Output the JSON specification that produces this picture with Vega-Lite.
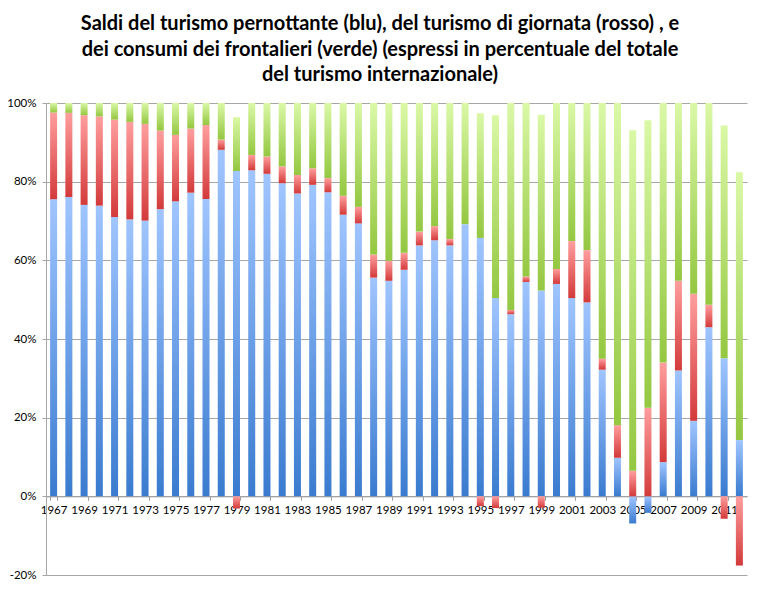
{
  "$schema": "https://vega.github.io/schema/vega-lite/v6.json",
  "autosize": {"type": "none"},
  "width": 701,
  "height": 472,
  "padding": {"left": 46, "top": 103, "right": 15, "bottom": 16},
  "background": "white",
  "title": {
    "text": ["Saldi del turismo pernottante (blu), del turismo di giornata (rosso) , e", "dei consumi dei frontalieri (verde) (espressi in percentuale del totale", "del turismo internazionale)"],
    "font": "Lato",
    "fontSize": 20,
    "fontWeight": "bold",
    "color": "#000000",
    "lineHeight": 25.5,
    "anchor": "middle",
    "frame": "group",
    "dx": -16.5,
    "offset": 12
  },
  "config": {
    "view": {"stroke": null},
    "axis": {"labelFont": "Lato", "labelFontSize": 11.5, "labelColor": "#000000"}
  },
  "data": {"values": [
    {"anno": "1967", "blu": 75.5, "rosso": 22.1, "verde": 2.4},
    {"anno": "1968", "blu": 76.1, "rosso": 21.4, "verde": 2.5},
    {"anno": "1969", "blu": 74.1, "rosso": 22.8, "verde": 3.1},
    {"anno": "1970", "blu": 73.9, "rosso": 22.7, "verde": 3.4},
    {"anno": "1971", "blu": 71.0, "rosso": 24.8, "verde": 4.2},
    {"anno": "1972", "blu": 70.4, "rosso": 24.8, "verde": 4.8},
    {"anno": "1973", "blu": 70.1, "rosso": 24.6, "verde": 5.3},
    {"anno": "1974", "blu": 73.0, "rosso": 20.0, "verde": 7.0},
    {"anno": "1975", "blu": 75.0, "rosso": 16.9, "verde": 8.1},
    {"anno": "1976", "blu": 77.2, "rosso": 16.3, "verde": 6.5},
    {"anno": "1977", "blu": 75.6, "rosso": 18.8, "verde": 5.6},
    {"anno": "1978", "blu": 88.1, "rosso": 2.6, "verde": 9.3},
    {"anno": "1979", "blu": 82.7, "rosso": -3.1, "verde": 13.7},
    {"anno": "1980", "blu": 82.9, "rosso": 3.9, "verde": 13.2},
    {"anno": "1981", "blu": 82.0, "rosso": 4.4, "verde": 13.6},
    {"anno": "1982", "blu": 79.6, "rosso": 4.3, "verde": 16.1},
    {"anno": "1983", "blu": 77.0, "rosso": 4.7, "verde": 18.3},
    {"anno": "1984", "blu": 79.2, "rosso": 4.2, "verde": 16.6},
    {"anno": "1985", "blu": 77.3, "rosso": 3.6, "verde": 19.1},
    {"anno": "1986", "blu": 71.6, "rosso": 4.8, "verde": 23.6},
    {"anno": "1987", "blu": 69.4, "rosso": 4.2, "verde": 26.4},
    {"anno": "1988", "blu": 55.6, "rosso": 5.9, "verde": 38.5},
    {"anno": "1989", "blu": 54.8, "rosso": 5.1, "verde": 40.1},
    {"anno": "1990", "blu": 57.6, "rosso": 4.3, "verde": 38.1},
    {"anno": "1991", "blu": 63.8, "rosso": 3.5, "verde": 32.7},
    {"anno": "1992", "blu": 65.1, "rosso": 3.6, "verde": 31.3},
    {"anno": "1993", "blu": 63.8, "rosso": 1.6, "verde": 34.6},
    {"anno": "1994", "blu": 69.2, "rosso": 0.0, "verde": 30.8},
    {"anno": "1995", "blu": 65.7, "rosso": -2.5, "verde": 31.7},
    {"anno": "1996", "blu": 50.4, "rosso": -3.0, "verde": 46.5},
    {"anno": "1997", "blu": 46.3, "rosso": 1.1, "verde": 52.6},
    {"anno": "1998", "blu": 54.5, "rosso": 1.4, "verde": 44.1},
    {"anno": "1999", "blu": 52.3, "rosso": -2.9, "verde": 44.7},
    {"anno": "2000", "blu": 54.0, "rosso": 3.8, "verde": 42.2},
    {"anno": "2001", "blu": 50.4, "rosso": 14.5, "verde": 35.1},
    {"anno": "2002", "blu": 49.3, "rosso": 13.3, "verde": 37.4},
    {"anno": "2003", "blu": 32.2, "rosso": 2.8, "verde": 65.0},
    {"anno": "2004", "blu": 9.8, "rosso": 8.3, "verde": 81.9},
    {"anno": "2005", "blu": -6.9, "rosso": 6.5, "verde": 86.6},
    {"anno": "2006", "blu": -4.2, "rosso": 22.5, "verde": 73.1},
    {"anno": "2007", "blu": 8.7, "rosso": 25.3, "verde": 66.0},
    {"anno": "2008", "blu": 32.0, "rosso": 22.8, "verde": 45.2},
    {"anno": "2009", "blu": 19.2, "rosso": 32.3, "verde": 48.5},
    {"anno": "2010", "blu": 43.0, "rosso": 5.7, "verde": 51.3},
    {"anno": "2011", "blu": 35.1, "rosso": -5.7, "verde": 59.2},
    {"anno": "2012", "blu": 14.3, "rosso": -17.6, "verde": 68.1}
  ]},
  "transform": [
    {"fold": ["blu", "rosso", "verde"], "as": ["serie", "valore"]},
    {"stack": "valore", "groupby": ["anno"], "sort": [{"field": "serie", "order": "ascending"}], "as": ["v0", "v1"]}
  ],
  "encoding": {
    "x": {
      "field": "anno", "type": "ordinal",
      "scale": {"paddingInner": 0.54, "paddingOuter": 0.27},
      "axis": {
        "orient": "bottom", "offset": -78.67, "title": null, "labelAngle": 0,
        "values": ["1967","1969","1971","1973","1975","1977","1979","1981","1983","1985","1987","1989","1991","1993","1995","1997","1999","2001","2003","2005","2007","2009","2011"],
        "domainColor": "#a0a0a0", "tickColor": "#a0a0a0", "tickSize": 4, "tickBand": "extent",
        "labelPadding": 4, "labelOverlap": false
      }
    },
    "y": {
      "field": "v1", "type": "quantitative",
      "scale": {"domain": [-20, 100], "nice": false, "zero": false},
      "axis": {
        "title": null, "values": [-20, 0, 20, 40, 60, 80, 100], "labelExpr": "datum.value + '%'",
        "grid": true, "gridColor": "#a6a6a6", "domainColor": "#a6a6a6", "tickColor": "#a6a6a6",
        "tickSize": 4, "labelPadding": 6
      }
    },
    "y2": {"field": "v0"}
  },
  "layer": [
    {
      "transform": [{"filter": "datum.serie === 'blu'"}],
      "mark": {"type": "bar", "color": {"gradient": "linear", "x1": 0, "y1": 0, "x2": 0, "y2": 1, "stops": [{"offset": 0, "color": "#a0c5ff"}, {"offset": 1, "color": "#3a7bcf"}]}}
    },
    {
      "transform": [{"filter": "datum.serie === 'rosso'"}],
      "mark": {"type": "bar", "color": {"gradient": "linear", "x1": 0, "y1": 0, "x2": 0, "y2": 1, "stops": [{"offset": 0, "color": "#ff9e9e"}, {"offset": 1, "color": "#d33a3a"}]}}
    },
    {
      "transform": [{"filter": "datum.serie === 'verde'"}],
      "mark": {"type": "bar", "color": {"gradient": "linear", "x1": 0, "y1": 0, "x2": 0, "y2": 1, "stops": [{"offset": 0, "color": "#daf8a6"}, {"offset": 1, "color": "#94c741"}]}}
    }
  ]
}
